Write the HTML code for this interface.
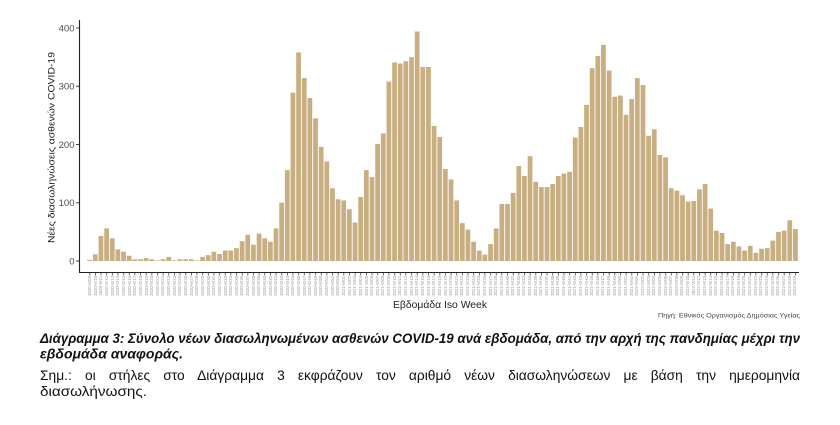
<!DOCTYPE html>
<html>
<head>
<meta charset="utf-8">
<style>
  html,body{margin:0;padding:0;background:#fff;}
  body{width:840px;height:425px;position:relative;overflow:hidden;font-family:"Liberation Sans","DejaVu Sans",sans-serif;}
  svg{position:absolute;left:0;top:0;}
  .xl{position:absolute;top:275.5px;left:86.85px;display:flex;}
  .xl div{width:5.646px;height:22px;display:flex;justify-content:center;align-items:flex-start;flex:none;}
  .xl span{writing-mode:vertical-rl;transform:rotate(180deg);font-size:4.3px;line-height:5px;color:#9a9a9a;white-space:nowrap;}
  .l3{position:absolute;left:40px;top:367.5px;width:760px;font-size:13.8px;line-height:15px;color:#111;text-align:justify;text-align-last:justify;white-space:nowrap;}
</style>
</head>
<body>
<svg width="840" height="425" viewBox="0 0 840 425">
  <defs>
    <pattern id="tk" x="89.35" y="0" width="5.646" height="425" patternUnits="userSpaceOnUse">
      <rect x="0" y="0" width="0.7" height="425" fill="#333"/>
    </pattern>
  </defs>
  <g transform="translate(87.3,261) scale(5.646,-0.5825)" fill="#c8ae80">
    <rect x="0" width="0.84" height="2"/>
    <rect x="1" width="0.84" height="11.5"/>
    <rect x="2" width="0.84" height="43"/>
    <rect x="3" width="0.84" height="56"/>
    <rect x="4" width="0.84" height="39"/>
    <rect x="5" width="0.84" height="20"/>
    <rect x="6" width="0.84" height="16"/>
    <rect x="7" width="0.84" height="9"/>
    <rect x="8" width="0.84" height="3"/>
    <rect x="9" width="0.84" height="3"/>
    <rect x="10" width="0.84" height="5"/>
    <rect x="11" width="0.84" height="3"/>
    <rect x="12" width="0.84" height="1"/>
    <rect x="13" width="0.84" height="3"/>
    <rect x="14" width="0.84" height="7"/>
    <rect x="15" width="0.84" height="1"/>
    <rect x="16" width="0.84" height="3"/>
    <rect x="17" width="0.84" height="3"/>
    <rect x="18" width="0.84" height="3"/>
    <rect x="19" width="0.84" height="1"/>
    <rect x="20" width="0.84" height="7"/>
    <rect x="21" width="0.84" height="10"/>
    <rect x="22" width="0.84" height="16"/>
    <rect x="23" width="0.84" height="12"/>
    <rect x="24" width="0.84" height="18"/>
    <rect x="25" width="0.84" height="18"/>
    <rect x="26" width="0.84" height="22"/>
    <rect x="27" width="0.84" height="34"/>
    <rect x="28" width="0.84" height="45"/>
    <rect x="29" width="0.84" height="28"/>
    <rect x="30" width="0.84" height="47"/>
    <rect x="31" width="0.84" height="39"/>
    <rect x="32" width="0.84" height="33"/>
    <rect x="33" width="0.84" height="56"/>
    <rect x="34" width="0.84" height="100"/>
    <rect x="35" width="0.84" height="156"/>
    <rect x="36" width="0.84" height="289"/>
    <rect x="37" width="0.84" height="358"/>
    <rect x="38" width="0.84" height="314"/>
    <rect x="39" width="0.84" height="280"/>
    <rect x="40" width="0.84" height="245"/>
    <rect x="41" width="0.84" height="196"/>
    <rect x="42" width="0.84" height="171"/>
    <rect x="43" width="0.84" height="125"/>
    <rect x="44" width="0.84" height="106"/>
    <rect x="45" width="0.84" height="104"/>
    <rect x="46" width="0.84" height="89"/>
    <rect x="47" width="0.84" height="66"/>
    <rect x="48" width="0.84" height="110"/>
    <rect x="49" width="0.84" height="156"/>
    <rect x="50" width="0.84" height="144"/>
    <rect x="51" width="0.84" height="201"/>
    <rect x="52" width="0.84" height="219"/>
    <rect x="53" width="0.84" height="308"/>
    <rect x="54" width="0.84" height="341"/>
    <rect x="55" width="0.84" height="339"/>
    <rect x="56" width="0.84" height="343"/>
    <rect x="57" width="0.84" height="350"/>
    <rect x="58" width="0.84" height="394"/>
    <rect x="59" width="0.84" height="333"/>
    <rect x="60" width="0.84" height="333"/>
    <rect x="61" width="0.84" height="232"/>
    <rect x="62" width="0.84" height="213"/>
    <rect x="63" width="0.84" height="158"/>
    <rect x="64" width="0.84" height="140"/>
    <rect x="65" width="0.84" height="104"/>
    <rect x="66" width="0.84" height="65"/>
    <rect x="67" width="0.84" height="54"/>
    <rect x="68" width="0.84" height="33"/>
    <rect x="69" width="0.84" height="18"/>
    <rect x="70" width="0.84" height="11"/>
    <rect x="71" width="0.84" height="29"/>
    <rect x="72" width="0.84" height="56"/>
    <rect x="73" width="0.84" height="98"/>
    <rect x="74" width="0.84" height="98"/>
    <rect x="75" width="0.84" height="117"/>
    <rect x="76" width="0.84" height="163"/>
    <rect x="77" width="0.84" height="146"/>
    <rect x="78" width="0.84" height="180"/>
    <rect x="79" width="0.84" height="136"/>
    <rect x="80" width="0.84" height="127"/>
    <rect x="81" width="0.84" height="127"/>
    <rect x="82" width="0.84" height="132"/>
    <rect x="83" width="0.84" height="146"/>
    <rect x="84" width="0.84" height="150"/>
    <rect x="85" width="0.84" height="153"/>
    <rect x="86" width="0.84" height="212"/>
    <rect x="87" width="0.84" height="230"/>
    <rect x="88" width="0.84" height="268"/>
    <rect x="89" width="0.84" height="331"/>
    <rect x="90" width="0.84" height="352"/>
    <rect x="91" width="0.84" height="371"/>
    <rect x="92" width="0.84" height="327"/>
    <rect x="93" width="0.84" height="282"/>
    <rect x="94" width="0.84" height="284"/>
    <rect x="95" width="0.84" height="251"/>
    <rect x="96" width="0.84" height="278"/>
    <rect x="97" width="0.84" height="314"/>
    <rect x="98" width="0.84" height="302"/>
    <rect x="99" width="0.84" height="215"/>
    <rect x="100" width="0.84" height="226"/>
    <rect x="101" width="0.84" height="182"/>
    <rect x="102" width="0.84" height="178"/>
    <rect x="103" width="0.84" height="125"/>
    <rect x="104" width="0.84" height="121"/>
    <rect x="105" width="0.84" height="113"/>
    <rect x="106" width="0.84" height="102"/>
    <rect x="107" width="0.84" height="103"/>
    <rect x="108" width="0.84" height="123"/>
    <rect x="109" width="0.84" height="132"/>
    <rect x="110" width="0.84" height="90"/>
    <rect x="111" width="0.84" height="52"/>
    <rect x="112" width="0.84" height="48"/>
    <rect x="113" width="0.84" height="29"/>
    <rect x="114" width="0.84" height="33"/>
    <rect x="115" width="0.84" height="25"/>
    <rect x="116" width="0.84" height="18"/>
    <rect x="117" width="0.84" height="26"/>
    <rect x="118" width="0.84" height="14"/>
    <rect x="119" width="0.84" height="21"/>
    <rect x="120" width="0.84" height="22"/>
    <rect x="121" width="0.84" height="35"/>
    <rect x="122" width="0.84" height="50"/>
    <rect x="123" width="0.84" height="52"/>
    <rect x="124" width="0.84" height="70"/>
    <rect x="125" width="0.84" height="55"/>
  </g>

  <!-- axes -->
  <line x1="79.5" y1="20" x2="79.5" y2="273" stroke="#222" stroke-width="1.1"/>
  <line x1="79" y1="272.5" x2="799" y2="272.5" stroke="#222" stroke-width="1.1"/>
  <rect x="87" y="273" width="711" height="2.5" fill="url(#tk)"/>

  <!-- y ticks -->
  <g stroke="#333" stroke-width="0.9">
    <line x1="76" y1="28" x2="79" y2="28"/>
    <line x1="76" y1="86.25" x2="79" y2="86.25"/>
    <line x1="76" y1="144.5" x2="79" y2="144.5"/>
    <line x1="76" y1="202.75" x2="79" y2="202.75"/>
    <line x1="76" y1="261" x2="79" y2="261"/>
  </g>
  <g font-family="Liberation Sans, DejaVu Sans, sans-serif" font-size="9.5" fill="#4d4d4d" text-anchor="end">
    <text x="74.5" y="31.4">400</text>
    <text x="74.5" y="89.6">300</text>
    <text x="74.5" y="147.9">200</text>
    <text x="74.5" y="206.1">100</text>
    <text x="74.5" y="264.4">0</text>
  </g>

  <!-- y title -->
  <text transform="translate(54.5,147.5) rotate(-90)" text-anchor="middle" font-family="Liberation Sans, DejaVu Sans, sans-serif" font-size="9.5" fill="#1a1a1a" textLength="191" lengthAdjust="spacingAndGlyphs">Νέες διασωληνώσεις ασθενών COVID-19</text>

  <!-- x title -->
  <text x="393" y="308" font-family="Liberation Sans, DejaVu Sans, sans-serif" font-size="10" fill="#222" textLength="94" lengthAdjust="spacingAndGlyphs">Εβδομάδα Iso Week</text>

  <!-- source -->
  <text x="658" y="317.5" font-family="Liberation Sans, DejaVu Sans, sans-serif" font-size="6" fill="#444" textLength="142" lengthAdjust="spacingAndGlyphs">Πηγή: Εθνικός Οργανισμός Δημόσιας Υγείας</text>

  <!-- caption -->
  <text x="40" y="343" font-family="Liberation Sans, DejaVu Sans, sans-serif" font-size="14" font-weight="bold" font-style="italic" fill="#111" textLength="760" lengthAdjust="spacingAndGlyphs">Διάγραμμα 3: Σύνολο νέων διασωληνωμένων ασθενών COVID-19 ανά εβδομάδα, από την αρχή της πανδημίας μέχρι την</text>
  <text x="40" y="358.5" font-family="Liberation Sans, DejaVu Sans, sans-serif" font-size="14" font-weight="bold" font-style="italic" fill="#111" textLength="143" lengthAdjust="spacingAndGlyphs">εβδομάδα αναφοράς.</text>
  <text x="40" y="396" font-family="Liberation Sans, DejaVu Sans, sans-serif" font-size="13.8" fill="#111" textLength="107" lengthAdjust="spacingAndGlyphs">διασωλήνωσης.</text>
</svg>

<div class="l3">Σημ.: οι στήλες στο Διάγραμμα 3 εκφράζουν τον αριθμό νέων διασωληνώσεων με βάση την ημερομηνία</div>

<div class="xl">
<div><span>2020-W09</span></div><div><span>2020-W10</span></div><div><span>2020-W11</span></div><div><span>2020-W12</span></div><div><span>2020-W13</span></div><div><span>2020-W14</span></div><div><span>2020-W15</span></div><div><span>2020-W16</span></div><div><span>2020-W17</span></div><div><span>2020-W18</span></div>
<div><span>2020-W19</span></div><div><span>2020-W20</span></div><div><span>2020-W21</span></div><div><span>2020-W22</span></div><div><span>2020-W23</span></div><div><span>2020-W24</span></div><div><span>2020-W25</span></div><div><span>2020-W26</span></div><div><span>2020-W27</span></div><div><span>2020-W28</span></div>
<div><span>2020-W29</span></div><div><span>2020-W30</span></div><div><span>2020-W31</span></div><div><span>2020-W32</span></div><div><span>2020-W33</span></div><div><span>2020-W34</span></div><div><span>2020-W35</span></div><div><span>2020-W36</span></div><div><span>2020-W37</span></div><div><span>2020-W38</span></div>
<div><span>2020-W39</span></div><div><span>2020-W40</span></div><div><span>2020-W41</span></div><div><span>2020-W42</span></div><div><span>2020-W43</span></div><div><span>2020-W44</span></div><div><span>2020-W45</span></div><div><span>2020-W46</span></div><div><span>2020-W47</span></div><div><span>2020-W48</span></div>
<div><span>2020-W49</span></div><div><span>2020-W50</span></div><div><span>2020-W51</span></div><div><span>2020-W52</span></div><div><span>2020-W53</span></div>
<div><span>2021-W01</span></div><div><span>2021-W02</span></div><div><span>2021-W03</span></div><div><span>2021-W04</span></div><div><span>2021-W05</span></div><div><span>2021-W06</span></div><div><span>2021-W07</span></div><div><span>2021-W08</span></div><div><span>2021-W09</span></div><div><span>2021-W10</span></div>
<div><span>2021-W11</span></div><div><span>2021-W12</span></div><div><span>2021-W13</span></div><div><span>2021-W14</span></div><div><span>2021-W15</span></div><div><span>2021-W16</span></div><div><span>2021-W17</span></div><div><span>2021-W18</span></div><div><span>2021-W19</span></div><div><span>2021-W20</span></div>
<div><span>2021-W21</span></div><div><span>2021-W22</span></div><div><span>2021-W23</span></div><div><span>2021-W24</span></div><div><span>2021-W25</span></div><div><span>2021-W26</span></div><div><span>2021-W27</span></div><div><span>2021-W28</span></div><div><span>2021-W29</span></div><div><span>2021-W30</span></div>
<div><span>2021-W31</span></div><div><span>2021-W32</span></div><div><span>2021-W33</span></div><div><span>2021-W34</span></div><div><span>2021-W35</span></div><div><span>2021-W36</span></div><div><span>2021-W37</span></div><div><span>2021-W38</span></div><div><span>2021-W39</span></div><div><span>2021-W40</span></div>
<div><span>2021-W41</span></div><div><span>2021-W42</span></div><div><span>2021-W43</span></div><div><span>2021-W44</span></div><div><span>2021-W45</span></div><div><span>2021-W46</span></div><div><span>2021-W47</span></div><div><span>2021-W48</span></div><div><span>2021-W49</span></div><div><span>2021-W50</span></div>
<div><span>2021-W51</span></div><div><span>2021-W52</span></div>
<div><span>2022-W01</span></div><div><span>2022-W02</span></div><div><span>2022-W03</span></div><div><span>2022-W04</span></div><div><span>2022-W05</span></div><div><span>2022-W06</span></div><div><span>2022-W07</span></div><div><span>2022-W08</span></div><div><span>2022-W09</span></div><div><span>2022-W10</span></div>
<div><span>2022-W11</span></div><div><span>2022-W12</span></div><div><span>2022-W13</span></div><div><span>2022-W14</span></div><div><span>2022-W15</span></div><div><span>2022-W16</span></div><div><span>2022-W17</span></div><div><span>2022-W18</span></div><div><span>2022-W19</span></div><div><span>2022-W20</span></div>
<div><span>2022-W21</span></div><div><span>2022-W22</span></div><div><span>2022-W23</span></div><div><span>2022-W24</span></div><div><span>2022-W25</span></div><div><span>2022-W26</span></div><div><span>2022-W27</span></div><div><span>2022-W28</span></div><div><span>2022-W29</span></div>
</div>
</body>
</html>
